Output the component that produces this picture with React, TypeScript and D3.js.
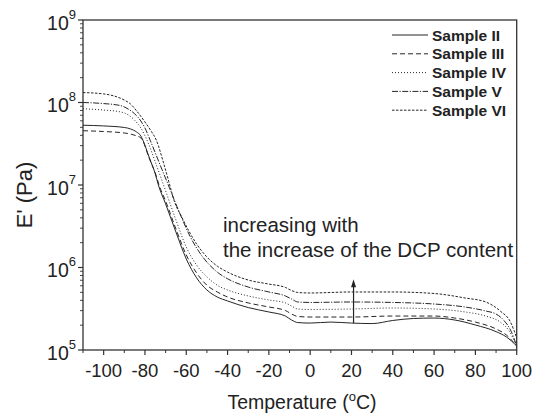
import React from 'react';
import * as d3 from 'd3';

const W = 535;
const H = 413;
const PLOT = { left: 83, right: 516.7, top: 20, bottom: 350 };
const FONT = '"Liberation Sans", Arial, Helvetica, sans-serif';

// Temperature (°C) and storage modulus E' (Pa) for each sample
const tempII = [-110, -100, -90, -87, -84, -82, -81, -78, -75, -73.5, -70, -65, -60, -55, -50, -45, -40, -30, -20, -12, -9, -6, 0, 10, 20, 30, 40, 50, 60, 70, 80, 90, 95, 100];
const modII = [5.3e7, 5.2e7, 4.98e7, 4.78e7, 4.38e7, 3.93e7, 3.5e7, 2.18e7, 1.36e7, 1.0e7, 5.9e6, 2.69e6, 1.27e6, 7.5e5, 5.34e5, 4.39e5, 3.93e5, 3.27e5, 2.89e5, 2.58e5, 2.31e5, 2.15e5, 2.12e5, 2.18e5, 2.12e5, 2.09e5, 2.28e5, 2.41e5, 2.44e5, 2.31e5, 2.01e5, 1.67e5, 1.44e5, 1.12e5];

const tempIII = [-110, -100, -90, -87, -84, -82, -81, -78, -75, -73, -70, -65, -60, -55, -50, -45, -40, -30, -20, -12, -9, -6, 0, 20, 40, 60, 70, 80, 90, 95, 100];
const modIII = [4.55e7, 4.45e7, 4.27e7, 4.15e7, 3.93e7, 3.72e7, 3.41e7, 2.12e7, 1.4e7, 9.7e6, 6.4e6, 2.93e6, 1.42e6, 8.6e5, 6.1e5, 5.05e5, 4.39e5, 3.72e5, 3.32e5, 3.01e5, 2.73e5, 2.55e5, 2.51e5, 2.51e5, 2.58e5, 2.58e5, 2.44e5, 2.18e5, 1.8e5, 1.52e5, 1.12e5];

const tempIV = [-110, -100, -92, -88, -85, -82, -79, -75, -71, -65, -60, -55, -50, -45, -40, -30, -20, -12, -9, -6, 0, 20, 40, 60, 75, 85, 92, 96, 100];
const modIV = [8.4e7, 8.1e7, 7.7e7, 7.05e7, 6.1e7, 4.9e7, 3.5e7, 1.9e7, 1.0e7, 3.77e6, 1.77e6, 1.07e6, 7.7e5, 6.1e5, 5.34e5, 4.52e5, 4.04e5, 3.72e5, 3.41e5, 3.14e5, 3.1e5, 3.14e5, 3.23e5, 3.14e5, 2.89e5, 2.58e5, 2.18e5, 1.75e5, 1.12e5];

const tempV = [-110, -100, -92, -88, -85, -82, -80, -77.5, -74, -68.7, -63, -58, -52, -45, -40, -30, -20, -12, -9, -6, 0, 20, 40, 60, 75, 85, 90, 94, 97, 100];
const modV = [1.0e8, 9.7e7, 9.2e7, 8.3e7, 7.3e7, 5.97e7, 4.9e7, 3.5e7, 2.12e7, 1.0e7, 4.45e6, 2.34e6, 1.34e6, 8.8e5, 7.3e5, 5.8e5, 5.05e5, 4.52e5, 4.15e5, 3.82e5, 3.77e5, 3.82e5, 3.77e5, 3.61e5, 3.32e5, 2.97e5, 2.73e5, 2.25e5, 1.75e5, 1.12e5];

const tempVI = [-110, -100, -95, -90, -87, -84, -80, -77, -74.5, -71, -68, -66, -62, -55, -50, -45, -40, -30, -20, -12, -9, -6, 0, 20, 40, 60, 75, 85, 92, 97, 100];
const modVI = [1.32e8, 1.27e8, 1.2e8, 1.07e8, 9.6e7, 7.9e7, 5.8e7, 4.5e7, 3.5e7, 1.85e7, 1.0e7, 6.6e6, 4.0e6, 1.93e6, 1.34e6, 1.04e6, 8.8e5, 7.05e5, 6.3e5, 5.73e5, 5.26e5, 4.98e5, 4.91e5, 5.05e5, 5.05e5, 4.84e5, 4.27e5, 3.82e5, 2.97e5, 2.18e5, 1.4e5];

const sampleNames = ['Sample II', 'Sample III', 'Sample IV', 'Sample V', 'Sample VI'];
const sampleTemps = [tempII, tempIII, tempIV, tempV, tempVI];
const sampleMods = [modII, modIII, modIV, modV, modVI];
const sampleDash = ['none', '5,3', '1,2', '6,1.5,1.2,1.5', '2.5,1.5'];

const xTickValues = [-100, -80, -60, -40, -20, 0, 20, 40, 60, 80, 100];
const xMinorValues = [-110, -90, -70, -50, -30, -10, 10, 30, 50, 70, 90];
const yExponents = [5, 6, 7, 8, 9];

const arrowTemp = 21;
const arrowFrom = 2.12e5;
const arrowTo = 7.2e5;
const annotationLines = ['increasing with', 'the increase of the DCP content'];

export default function App() {
  const x = d3.scaleLinear().domain([-110, 100]).range([PLOT.left, PLOT.right]);
  const y = d3.scaleLog().domain([1e5, 1e9]).range([PLOT.bottom, PLOT.top]);

  const line = d3
    .line<[number, number]>()
    .x((d) => x(d[0]))
    .y((d) => y(d[1]))
    .curve(d3.curveMonotoneX);

  const minorY: number[] = [];
  for (let e = 5; e < 9; e++) {
    for (let m = 2; m <= 9; m++) minorY.push(m * Math.pow(10, e));
  }

  const stroke = '#262626';
  const ax = x(arrowTemp);
  const ay0 = y(arrowFrom);
  const ay1 = y(arrowTo);

  return (
    <svg
      width={W}
      height={H}
      style={{ position: 'absolute', left: 0, top: 0, background: '#fff' }}
      fontFamily={FONT}
    >
      <rect x={0} y={0} width={W} height={H} fill="#fff" />

      {/* curves */}
      {sampleNames.map((name, i) => {
        const pts = sampleTemps[i].map((t, j) => [t, sampleMods[i][j]] as [number, number]);
        return (
          <path
            key={name}
            d={line(pts) || ''}
            fill="none"
            stroke={stroke}
            strokeWidth={1}
            strokeDasharray={sampleDash[i]}
          />
        );
      })}

      {/* frame */}
      <rect
        x={PLOT.left}
        y={PLOT.top}
        width={PLOT.right - PLOT.left}
        height={PLOT.bottom - PLOT.top}
        fill="none"
        stroke="#333"
        strokeWidth={1.3}
      />

      {/* x ticks */}
      {xTickValues.map((t) => (
        <g key={'xt' + t}>
          <line x1={x(t)} x2={x(t)} y1={PLOT.bottom} y2={PLOT.bottom + 5} stroke="#333" strokeWidth={1.2} />
          <text x={x(t)} y={PLOT.bottom + 27} textAnchor="middle" fontSize={18.5} fill="#222">
            {t}
          </text>
        </g>
      ))}
      {xMinorValues.map((t) => (
        <line key={'xm' + t} x1={x(t)} x2={x(t)} y1={PLOT.bottom} y2={PLOT.bottom + 3} stroke="#333" strokeWidth={1} />
      ))}

      {/* y ticks */}
      {yExponents.map((e) => {
        const yy = y(Math.pow(10, e));
        return (
          <g key={'yt' + e}>
            <line x1={PLOT.left - 5} x2={PLOT.left} y1={yy} y2={yy} stroke="#333" strokeWidth={1.2} />
            <text x={PLOT.left - 7} y={yy + 9.5} textAnchor="end" fontSize={19.5} fill="#222">
              10
              <tspan fontSize={13} dy={-11}>
                {e}
              </tspan>
            </text>
          </g>
        );
      })}
      {minorY.map((v) => (
        <line key={'ym' + v} x1={PLOT.left - 3} x2={PLOT.left} y1={y(v)} y2={y(v)} stroke="#333" strokeWidth={0.9} />
      ))}

      {/* axis titles */}
      <text x={302} y={409} textAnchor="middle" fontSize={19.5} fill="#222">
        Temperature (
        <tspan fontSize={13} dy={-8}>
          o
        </tspan>
        <tspan dy={8}>C)</tspan>
      </text>
      <text
        transform={`translate(32, 195) rotate(-90)`}
        textAnchor="middle"
        fontSize={22}
        fill="#222"
      >
        E' (Pa)
      </text>

      {/* legend */}
      {sampleNames.map((name, i) => {
        const ly = 35 + i * 18.8;
        return (
          <g key={'lg' + name}>
            <line x1={392} x2={428} y1={ly} y2={ly} stroke={stroke} strokeWidth={1} strokeDasharray={sampleDash[i]} />
            <text x={432} y={ly + 5.5} fontSize={15.5} fontWeight="bold" fill="#222">
              {name}
            </text>
          </g>
        );
      })}

      {/* annotation */}
      {annotationLines.map((s, i) => (
        <text key={'an' + i} x={223} y={232 + i * 25} fontSize={20.5} fill="#222">
          {s}
        </text>
      ))}
      <line x1={ax} x2={ax} y1={ay0} y2={ay1 + 6} stroke="#222" strokeWidth={1.2} />
      <path d={`M${ax},${ay1} L${ax - 2.5},${ay1 + 8} L${ax + 2.5},${ay1 + 8} Z`} fill="#222" />
    </svg>
  );
}
